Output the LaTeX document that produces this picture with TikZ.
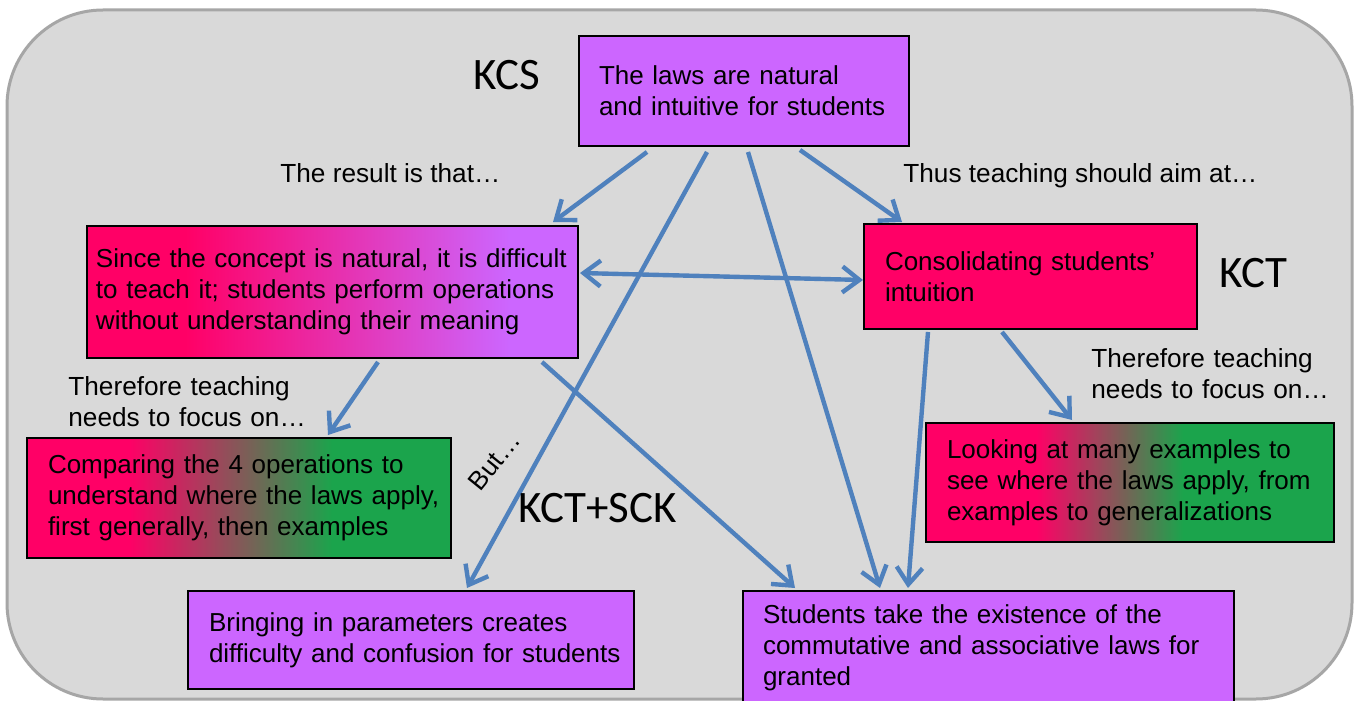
\documentclass[tikz,border=0pt]{standalone}
\usepackage{fontspec}
\setmainfont{Liberation Sans}
\newfontfamily\kcfont{Carlito}
\usetikzlibrary{arrows.meta,calc}
\definecolor{bgc}{HTML}{D9D9D9}
\definecolor{bgline}{HTML}{A6A6A6}
\definecolor{lilac}{HTML}{CC66FF}
\definecolor{rose}{HTML}{FF0066}
\definecolor{leaf}{HTML}{1BA44C}
\definecolor{arr}{HTML}{4F81BD}
\newcommand{\oneline}[1]{\mbox{#1}}
\pgfdeclarehorizontalshading{rosetolilac}{100bp}{color(0bp)=(rose); color(35bp)=(rose); color(68bp)=(lilac); color(100bp)=(lilac)}
\pgfdeclarehorizontalshading{rosetoleafA}{100bp}{color(0bp)=(rose); color(37bp)=(rose); color(61bp)=(leaf); color(100bp)=(leaf)}
\pgfdeclarehorizontalshading{rosetoleafB}{100bp}{color(0bp)=(rose); color(38.5bp)=(rose); color(56.5bp)=(leaf); color(100bp)=(leaf)}
\begin{document}
\begin{tikzpicture}[x=0.5pt, y=-0.5pt,
  txt/.style={font=\fontsize{13.1pt}{15.6pt}\selectfont},
  btxt/.style={font=\fontsize{13pt}{15.6pt}\selectfont},
  box/.style={btxt, draw=black, line width=1pt, anchor=north west, align=left, inner ysep=0pt},
  lbl/.style={txt, inner sep=0pt, anchor=base west, align=left},
  kc/.style={font=\kcfont\fontsize{22.5pt}{27pt}\selectfont, inner sep=0pt, anchor=base west},
  tipb/.tip={Straight Barb[length=8.5pt,width=13pt]},
  conn/.style={draw=arr, line width=2.2pt, -tipb},
  conn2/.style={draw=arr, line width=2.2pt, tipb-tipb}]
\useasboundingbox (0,0) rectangle (1357,701);
\clip (0,0) rectangle (1357,701);
\fill[white] (0,0) rectangle (1357,701);
\draw[bgline, fill=bgc, line width=1.5pt, rounded corners=48pt] (7,10) rectangle (1352,699);

% boxes
\node[box, fill=lilac, minimum height=55pt, text width=145pt, inner xsep=10pt] (top) at (578,35)
  {\oneline{The laws are natural}\\\oneline{and intuitive for students}};
\node[box, shading=rosetolilac, minimum height=66pt, text width=236.5pt, inner xsep=4.5pt] (b2) at (86,225)
  {\oneline{Since the concept is natural, it is difficult}\\\oneline{to teach it; students perform operations}\\\oneline{without understanding their meaning}};
\node[box, fill=rose, minimum height=52.5pt, text width=145.5pt, inner xsep=10.5pt] (b3) at (863,223)
  {\oneline{Consolidating students'}\\\oneline{intuition}};
\node[box, shading=rosetoleafA, minimum height=60pt, text width=191pt, inner xsep=10.5pt] (b4) at (26,437)
  {\oneline{Comparing the 4 operations to}\\\oneline{understand where the laws apply,}\\\oneline{first generally, then examples}};
\node[box, shading=rosetoleafB, minimum height=59.5pt, text width=183pt, inner xsep=10.5pt] (b5) at (925,422)
  {\oneline{Looking at many examples to}\\\oneline{see where the laws apply, from}\\\oneline{examples to generalizations}};
\node[box, fill=lilac, minimum height=49pt, text width=202pt, inner xsep=10.5pt] (b6) at (187,590)
  {\oneline{Bringing in parameters creates}\\\oneline{difficulty and confusion for students}};
\node[box, fill=lilac, minimum height=57pt, text width=225.5pt, inner xsep=10pt] (b7) at (742,590)
  {\oneline{Students take the existence of the}\\\oneline{commutative and associative laws for}\\\oneline{granted}};

% connectors
\draw[conn] ($(top.south west)+(69,5)$) -- ($(b2.north west)+(467,-3)$);
\draw[conn] ($(top.south west)+(222,3)$) -- ($(b3.north west)+(39,-1)$);
\draw[conn2] ($(b2.north east)+(1,48)$) -- ($(b3.north west)+(0,57)$);
\draw[conn] ($(top.south west)+(129,5)$) -- ($(b6.north west)+(280,-2)$);
\draw[conn] ($(top.south west)+(170,5)$) -- ($(b7.north west)+(138,-2)$);
\draw[conn] ($(b2.south west)+(292,3)$) -- ($(b4.north west)+(302,-2)$);
\draw[conn] ($(b2.south west)+(456,3)$) -- ($(b7.north west)+(53,-2)$);
\draw[conn] ($(b3.south west)+(65,2)$) -- ($(b7.north west)+(166,-2)$);
\draw[conn] ($(b3.south west)+(139,2)$) -- ($(b5.north west)+(147,-2)$);

% labels
\node[kc] (kcs) at (473,90) {KCS};
\node[kc] (kct) at (1219,287) {KCT};
\node[kc] (kctsck) at (518,522) {KCT+SCK};
\node[lbl] (lres) at (280,183) {The result is that…};
\node[lbl] (lthus) at (903,183) {Thus teaching should aim at…};
\node[lbl, text width=130pt] (lfocA) at (68,395) {Therefore teaching\\needs to focus on…};
\node[lbl, text width=130pt] (lfocB) at (1091,367) {Therefore teaching\\needs to focus on…};
\node[txt, inner sep=0pt, rotate=51] (but) at (494,461) {But…};
\end{tikzpicture}
\end{document}
